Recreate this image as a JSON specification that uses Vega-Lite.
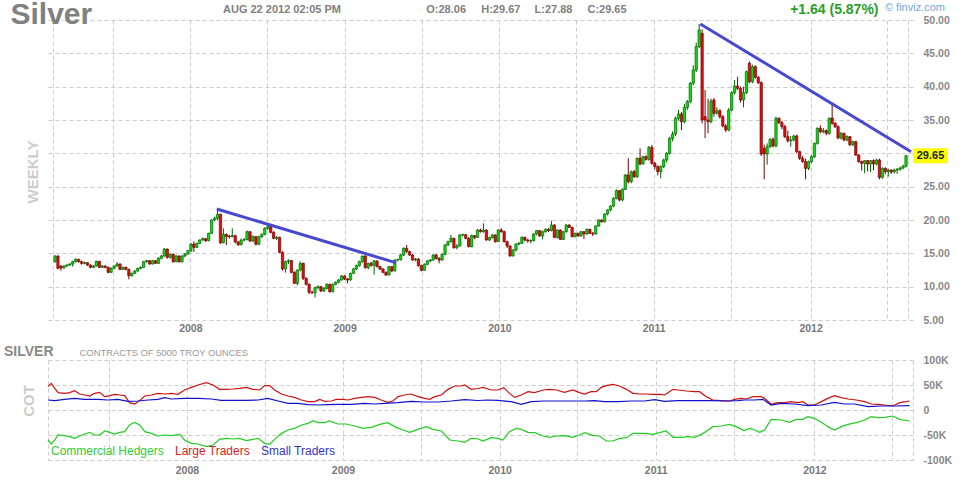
{
"$schema":"https://vega.github.io/schema/vega-lite/v6.json",
"autosize":{"type":"pad"},
"padding":{"left":3,"top":0,"right":9,"bottom":4},
"background":"white",
"bounds":"flush",
"spacing":40,
"resolve":{"legend":{"color":"independent"}},
"config":{"view":{"stroke":null},"font":"Liberation Sans","axis":{"labelOverlap":false}},
"datasets":{
"px":[
{"w":0,"o":13.75,"h":14.7,"l":13.6,"c":14.6},{"w":1,"o":14.6,"h":14.7,"l":12.6,"c":12.75},{"w":2,"o":13.1,"h":13.2,"l":12.4,"c":12.8},{"w":3,"o":12.8,"h":13.2,"l":12.7,"c":13.1},{"w":4,"o":13.1,"h":13.35,"l":12.95,"c":13.25},{"w":5,"o":13.25,"h":13.5,"l":13.1,"c":13.4},{"w":6,"o":13.4,"h":13.9,"l":13.0,"c":13.75},{"w":7,"o":13.75,"h":14.25,"l":13.6,"c":14.1},{"w":8,"o":14.1,"h":14.2,"l":13.6,"c":13.75},{"w":9,"o":13.75,"h":13.9,"l":13.3,"c":13.5},
{"w":10,"o":13.5,"h":13.75,"l":13.35,"c":13.6},{"w":11,"o":13.6,"h":13.7,"l":13.1,"c":13.25},{"w":12,"o":13.25,"h":13.35,"l":12.75,"c":12.9},{"w":13,"o":12.9,"h":13.25,"l":12.8,"c":13.1},{"w":14,"o":13.1,"h":13.9,"l":13.0,"c":13.8},{"w":15,"o":13.8,"h":13.85,"l":12.8,"c":12.9},{"w":16,"o":12.9,"h":13.25,"l":12.8,"c":13.1},{"w":17,"o":13.1,"h":13.2,"l":12.75,"c":12.9},{"w":18,"o":12.9,"h":13.0,"l":12.0,"c":12.15},{"w":19,"o":12.15,"h":12.9,"l":12.05,"c":12.75},
{"w":20,"o":12.75,"h":13.2,"l":12.6,"c":13.1},{"w":21,"o":13.1,"h":13.7,"l":13.0,"c":13.4},{"w":22,"o":13.4,"h":13.5,"l":12.5,"c":12.6},{"w":23,"o":12.6,"h":13.0,"l":12.5,"c":12.9},{"w":24,"o":12.9,"h":13.0,"l":12.45,"c":12.6},{"w":25,"o":12.6,"h":12.7,"l":11.1,"c":11.65},{"w":26,"o":11.65,"h":12.1,"l":11.5,"c":12.0},{"w":27,"o":12.0,"h":12.45,"l":11.9,"c":12.35},{"w":28,"o":12.35,"h":12.85,"l":12.25,"c":12.75},{"w":29,"o":12.75,"h":13.05,"l":12.6,"c":12.9},
{"w":30,"o":12.9,"h":13.85,"l":12.8,"c":13.75},{"w":31,"o":13.75,"h":14.0,"l":13.6,"c":13.9},{"w":32,"o":13.9,"h":14.0,"l":13.3,"c":13.4},{"w":33,"o":13.4,"h":14.0,"l":13.35,"c":13.9},{"w":34,"o":13.9,"h":14.0,"l":13.4,"c":13.5},{"w":35,"o":13.5,"h":14.4,"l":13.45,"c":14.25},{"w":36,"o":14.25,"h":14.75,"l":14.1,"c":14.6},{"w":37,"o":14.6,"h":15.8,"l":14.5,"c":15.65},{"w":38,"o":15.65,"h":15.7,"l":14.2,"c":14.4},{"w":39,"o":14.4,"h":14.95,"l":14.2,"c":14.85},
{"w":40,"o":14.85,"h":15.0,"l":13.6,"c":13.75},{"w":41,"o":13.75,"h":14.75,"l":13.65,"c":14.6},{"w":42,"o":14.6,"h":14.7,"l":13.6,"c":13.75},{"w":43,"o":13.75,"h":14.7,"l":13.6,"c":14.6},{"w":44,"o":14.6,"h":15.05,"l":14.45,"c":14.9},{"w":45,"o":14.9,"h":15.5,"l":14.8,"c":15.4},{"w":46,"o":15.4,"h":16.55,"l":15.2,"c":16.4},{"w":47,"o":16.4,"h":16.8,"l":15.2,"c":15.9},{"w":48,"o":15.9,"h":16.6,"l":15.8,"c":16.5},{"w":49,"o":16.5,"h":17.1,"l":16.4,"c":17.0},
{"w":50,"o":17.0,"h":17.4,"l":16.9,"c":17.2},{"w":51,"o":17.2,"h":17.3,"l":16.7,"c":16.9},{"w":52,"o":16.9,"h":18.1,"l":16.8,"c":18.0},{"w":53,"o":18.0,"h":20.1,"l":17.9,"c":20.0},{"w":54,"o":20.0,"h":20.5,"l":19.8,"c":20.25},{"w":55,"o":20.25,"h":21.6,"l":20.0,"c":20.85},{"w":56,"o":20.85,"h":20.95,"l":16.4,"c":16.6},{"w":57,"o":16.6,"h":18.75,"l":16.5,"c":17.85},{"w":58,"o":17.85,"h":17.95,"l":16.25,"c":17.5},{"w":59,"o":17.6,"h":17.75,"l":17.2,"c":17.5},
{"w":60,"o":17.5,"h":18.75,"l":17.4,"c":17.65},{"w":61,"o":17.65,"h":17.8,"l":16.5,"c":16.7},{"w":62,"o":16.7,"h":16.85,"l":16.1,"c":16.3},{"w":63,"o":16.3,"h":17.2,"l":16.2,"c":17.0},{"w":64,"o":17.0,"h":17.3,"l":16.8,"c":17.05},{"w":65,"o":17.05,"h":18.4,"l":16.95,"c":18.25},{"w":66,"o":18.25,"h":18.3,"l":16.7,"c":16.85},{"w":67,"o":16.85,"h":17.7,"l":16.7,"c":17.5},{"w":68,"o":17.5,"h":17.6,"l":16.2,"c":16.35},{"w":69,"o":16.35,"h":17.65,"l":16.3,"c":17.5},
{"w":70,"o":17.5,"h":18.0,"l":17.3,"c":17.85},{"w":71,"o":17.85,"h":18.9,"l":17.7,"c":18.75},{"w":72,"o":18.75,"h":19.3,"l":18.5,"c":19.0},{"w":73,"o":19.0,"h":19.2,"l":18.0,"c":18.15},{"w":74,"o":18.15,"h":18.3,"l":17.1,"c":17.25},{"w":75,"o":17.25,"h":17.6,"l":17.0,"c":17.4},{"w":76,"o":17.4,"h":17.5,"l":15.0,"c":15.15},{"w":77,"o":15.15,"h":15.3,"l":12.4,"c":12.65},{"w":78,"o":12.65,"h":13.9,"l":12.1,"c":13.75},{"w":79,"o":13.75,"h":14.1,"l":13.4,"c":13.9},
{"w":80,"o":13.9,"h":14.0,"l":12.0,"c":12.15},{"w":81,"o":12.15,"h":12.3,"l":10.4,"c":10.5},{"w":82,"o":10.5,"h":12.6,"l":10.2,"c":12.5},{"w":83,"o":12.5,"h":13.8,"l":12.3,"c":13.5},{"w":84,"o":13.5,"h":13.6,"l":11.0,"c":11.25},{"w":85,"o":11.25,"h":11.4,"l":10.2,"c":10.35},{"w":86,"o":10.35,"h":10.5,"l":8.9,"c":9.15},{"w":87,"o":9.15,"h":9.4,"l":8.9,"c":9.1},{"w":88,"o":9.1,"h":10.0,"l":8.4,"c":9.85},{"w":89,"o":9.85,"h":10.2,"l":9.6,"c":10.0},
{"w":90,"o":10.0,"h":10.1,"l":9.2,"c":9.35},{"w":91,"o":9.35,"h":9.9,"l":9.2,"c":9.75},{"w":92,"o":9.75,"h":10.5,"l":9.6,"c":10.35},{"w":93,"o":10.35,"h":10.45,"l":9.1,"c":9.25},{"w":94,"o":9.25,"h":10.5,"l":9.15,"c":10.35},{"w":95,"o":10.35,"h":10.8,"l":10.2,"c":10.65},{"w":96,"o":10.65,"h":11.15,"l":10.5,"c":11.0},{"w":97,"o":11.0,"h":11.75,"l":10.9,"c":11.6},{"w":98,"o":11.6,"h":11.7,"l":11.0,"c":11.15},{"w":99,"o":11.15,"h":11.3,"l":10.5,"c":11.0},
{"w":100,"o":11.0,"h":12.1,"l":10.9,"c":12.0},{"w":101,"o":12.0,"h":12.8,"l":11.9,"c":12.65},{"w":102,"o":12.65,"h":13.3,"l":12.5,"c":13.15},{"w":103,"o":13.15,"h":13.9,"l":13.0,"c":13.75},{"w":104,"o":13.75,"h":14.65,"l":13.6,"c":14.6},{"w":105,"o":14.6,"h":14.7,"l":12.7,"c":12.85},{"w":106,"o":12.85,"h":13.6,"l":12.6,"c":13.5},{"w":107,"o":13.5,"h":13.7,"l":13.0,"c":13.2},{"w":108,"o":13.2,"h":14.0,"l":11.8,"c":13.85},{"w":109,"o":13.85,"h":13.95,"l":12.9,"c":13.0},
{"w":110,"o":13.0,"h":13.1,"l":12.5,"c":12.65},{"w":111,"o":12.65,"h":12.75,"l":12.0,"c":12.15},{"w":112,"o":12.15,"h":12.3,"l":11.6,"c":11.75},{"w":113,"o":11.75,"h":13.1,"l":11.7,"c":13.0},{"w":114,"o":13.0,"h":13.1,"l":12.2,"c":12.35},{"w":115,"o":12.35,"h":14.1,"l":12.3,"c":14.0},{"w":116,"o":14.0,"h":14.2,"l":13.8,"c":14.05},{"w":117,"o":14.05,"h":14.9,"l":13.9,"c":14.75},{"w":118,"o":14.75,"h":15.9,"l":14.6,"c":15.75},{"w":119,"o":15.75,"h":16.25,"l":15.1,"c":15.25},
{"w":120,"o":15.25,"h":15.4,"l":14.6,"c":14.75},{"w":121,"o":14.75,"h":14.9,"l":13.9,"c":14.0},{"w":122,"o":14.0,"h":14.3,"l":13.8,"c":14.15},{"w":123,"o":14.15,"h":14.25,"l":13.0,"c":13.15},{"w":124,"o":13.15,"h":13.3,"l":12.3,"c":12.45},{"w":125,"o":12.45,"h":13.5,"l":12.4,"c":13.35},{"w":126,"o":13.35,"h":14.0,"l":13.2,"c":13.85},{"w":127,"o":13.85,"h":14.15,"l":13.7,"c":14.0},{"w":128,"o":14.0,"h":14.9,"l":13.9,"c":14.75},{"w":129,"o":14.75,"h":14.9,"l":14.1,"c":14.25},
{"w":130,"o":14.25,"h":14.4,"l":13.5,"c":14.0},{"w":131,"o":14.0,"h":14.95,"l":13.9,"c":14.85},{"w":132,"o":14.85,"h":16.4,"l":14.7,"c":16.25},{"w":133,"o":16.25,"h":16.9,"l":16.1,"c":16.75},{"w":134,"o":16.75,"h":17.75,"l":16.6,"c":17.25},{"w":135,"o":17.25,"h":17.35,"l":15.7,"c":15.85},{"w":136,"o":15.85,"h":16.4,"l":15.6,"c":16.1},{"w":137,"o":16.1,"h":17.9,"l":16.0,"c":17.75},{"w":138,"o":17.75,"h":17.95,"l":17.5,"c":17.8},{"w":139,"o":17.8,"h":17.9,"l":17.1,"c":17.25},
{"w":140,"o":17.25,"h":17.4,"l":15.9,"c":16.0},{"w":141,"o":16.0,"h":17.8,"l":15.9,"c":17.65},{"w":142,"o":17.65,"h":17.75,"l":17.1,"c":17.4},{"w":143,"o":17.4,"h":18.65,"l":17.3,"c":18.5},{"w":144,"o":18.5,"h":18.7,"l":18.1,"c":18.25},{"w":145,"o":18.25,"h":19.5,"l":18.1,"c":18.5},{"w":146,"o":18.5,"h":18.6,"l":16.9,"c":17.0},{"w":147,"o":17.0,"h":17.5,"l":16.85,"c":17.35},{"w":148,"o":17.35,"h":17.9,"l":17.2,"c":17.75},{"w":149,"o":17.75,"h":17.85,"l":16.6,"c":16.75},
{"w":150,"o":16.75,"h":18.65,"l":16.7,"c":18.5},{"w":151,"o":18.5,"h":18.8,"l":18.1,"c":18.25},{"w":152,"o":18.25,"h":18.4,"l":16.6,"c":16.75},{"w":153,"o":16.75,"h":16.9,"l":15.8,"c":16.1},{"w":154,"o":16.1,"h":16.2,"l":14.5,"c":14.6},{"w":155,"o":14.6,"h":15.6,"l":14.55,"c":15.5},{"w":156,"o":15.5,"h":16.5,"l":15.3,"c":16.4},{"w":157,"o":16.4,"h":16.7,"l":16.2,"c":16.5},{"w":158,"o":16.5,"h":17.55,"l":16.4,"c":17.4},{"w":159,"o":17.4,"h":17.5,"l":16.8,"c":17.0},
{"w":160,"o":17.0,"h":17.2,"l":16.6,"c":16.85},{"w":161,"o":16.85,"h":17.1,"l":16.5,"c":16.9},{"w":162,"o":16.9,"h":18.0,"l":16.8,"c":17.9},{"w":163,"o":17.9,"h":18.5,"l":17.7,"c":18.4},{"w":164,"o":18.4,"h":18.5,"l":17.5,"c":17.6},{"w":165,"o":17.6,"h":18.4,"l":17.1,"c":18.25},{"w":166,"o":18.25,"h":18.75,"l":18.1,"c":18.6},{"w":167,"o":18.6,"h":18.8,"l":18.2,"c":18.4},{"w":168,"o":18.4,"h":19.9,"l":18.3,"c":19.25},{"w":169,"o":19.25,"h":19.35,"l":17.3,"c":17.4},
{"w":170,"o":17.4,"h":18.6,"l":17.2,"c":18.5},{"w":171,"o":18.5,"h":18.6,"l":17.0,"c":17.1},{"w":172,"o":17.1,"h":18.35,"l":17.0,"c":18.25},{"w":173,"o":18.25,"h":19.4,"l":18.1,"c":19.25},{"w":174,"o":19.25,"h":19.35,"l":18.8,"c":18.9},{"w":175,"o":18.9,"h":19.0,"l":17.4,"c":17.5},{"w":176,"o":17.5,"h":18.1,"l":17.4,"c":18.0},{"w":177,"o":18.0,"h":18.1,"l":17.5,"c":17.6},{"w":178,"o":17.6,"h":18.35,"l":17.5,"c":18.25},{"w":179,"o":18.25,"h":18.3,"l":17.15,"c":17.9},
{"w":180,"o":17.9,"h":18.7,"l":17.8,"c":18.6},{"w":181,"o":18.6,"h":18.7,"l":17.9,"c":18.0},{"w":182,"o":18.0,"h":18.2,"l":17.6,"c":17.9},{"w":183,"o":17.9,"h":19.2,"l":17.8,"c":19.1},{"w":184,"o":19.1,"h":20.1,"l":19.0,"c":20.0},{"w":185,"o":20.0,"h":20.1,"l":19.6,"c":19.75},{"w":186,"o":19.75,"h":21.0,"l":19.6,"c":20.9},{"w":187,"o":20.9,"h":21.6,"l":20.7,"c":21.5},{"w":188,"o":21.5,"h":22.2,"l":21.3,"c":22.1},{"w":189,"o":22.1,"h":23.4,"l":21.9,"c":23.25},
{"w":190,"o":23.25,"h":24.6,"l":23.1,"c":24.4},{"w":191,"o":24.4,"h":24.5,"l":22.8,"c":23.0},{"w":192,"o":23.0,"h":24.75,"l":22.8,"c":24.6},{"w":193,"o":24.6,"h":26.9,"l":24.5,"c":26.75},{"w":194,"o":26.75,"h":29.25,"l":25.5,"c":25.75},{"w":195,"o":25.75,"h":27.4,"l":25.5,"c":27.25},{"w":196,"o":27.25,"h":27.5,"l":26.3,"c":26.5},{"w":197,"o":26.5,"h":29.4,"l":26.3,"c":29.25},{"w":198,"o":29.25,"h":30.75,"l":28.2,"c":28.4},{"w":199,"o":28.4,"h":29.6,"l":28.3,"c":29.5},
{"w":200,"o":29.5,"h":29.7,"l":28.9,"c":29.1},{"w":201,"o":29.1,"h":31.1,"l":28.9,"c":30.9},{"w":202,"o":30.9,"h":31.25,"l":28.3,"c":28.5},{"w":203,"o":28.5,"h":28.7,"l":27.6,"c":28.0},{"w":204,"o":28.0,"h":28.2,"l":26.7,"c":27.25},{"w":205,"o":27.25,"h":28.2,"l":26.25,"c":28.0},{"w":206,"o":28.0,"h":29.2,"l":27.8,"c":29.0},{"w":207,"o":29.0,"h":30.2,"l":28.6,"c":30.0},{"w":208,"o":30.0,"h":32.5,"l":29.8,"c":32.25},{"w":209,"o":32.25,"h":33.3,"l":31.8,"c":32.9},
{"w":210,"o":32.9,"h":35.5,"l":32.6,"c":35.25},{"w":211,"o":35.25,"h":36.5,"l":34.9,"c":35.9},{"w":212,"o":35.9,"h":36.2,"l":33.5,"c":34.75},{"w":213,"o":34.75,"h":37.4,"l":34.5,"c":36.9},{"w":214,"o":36.9,"h":38.0,"l":36.5,"c":37.75},{"w":215,"o":37.75,"h":40.7,"l":37.5,"c":40.5},{"w":216,"o":40.5,"h":43.2,"l":40.2,"c":42.5},{"w":217,"o":42.5,"h":46.6,"l":42.2,"c":46.0},{"w":218,"o":46.0,"h":49.4,"l":45.8,"c":48.5},{"w":219,"o":48.0,"h":48.6,"l":34.5,"c":35.0},
{"w":220,"o":35.5,"h":39.5,"l":32.3,"c":35.0},{"w":221,"o":35.0,"h":38.2,"l":33.0,"c":34.75},{"w":222,"o":34.75,"h":38.2,"l":34.5,"c":37.85},{"w":223,"o":38.0,"h":38.3,"l":35.5,"c":36.0},{"w":224,"o":36.0,"h":36.9,"l":35.8,"c":36.4},{"w":225,"o":36.4,"h":36.6,"l":35.2,"c":35.5},{"w":226,"o":35.5,"h":35.7,"l":33.9,"c":34.1},{"w":227,"o":34.1,"h":34.4,"l":33.2,"c":33.5},{"w":228,"o":33.5,"h":36.8,"l":33.3,"c":36.5},{"w":229,"o":36.5,"h":39.3,"l":36.3,"c":39.1},
{"w":230,"o":39.1,"h":41.0,"l":38.8,"c":40.1},{"w":231,"o":40.1,"h":41.5,"l":39.5,"c":39.75},{"w":232,"o":39.75,"h":40.0,"l":37.6,"c":38.0},{"w":233,"o":38.0,"h":40.0,"l":36.9,"c":39.1},{"w":234,"o":39.1,"h":42.4,"l":38.9,"c":42.25},{"w":235,"o":43.5,"h":43.8,"l":40.5,"c":40.75},{"w":236,"o":40.75,"h":43.3,"l":40.5,"c":43.0},{"w":237,"o":43.0,"h":43.2,"l":41.2,"c":41.4},{"w":238,"o":41.4,"h":41.6,"l":40.4,"c":40.6},{"w":239,"o":40.6,"h":40.8,"l":29.6,"c":29.9},
{"w":240,"o":30.75,"h":31.3,"l":26.1,"c":29.9},{"w":241,"o":29.9,"h":31.5,"l":28.3,"c":31.0},{"w":242,"o":31.0,"h":32.3,"l":30.8,"c":32.1},{"w":243,"o":32.1,"h":32.4,"l":30.9,"c":31.1},{"w":244,"o":31.1,"h":35.5,"l":30.9,"c":35.25},{"w":245,"o":35.25,"h":35.4,"l":34.4,"c":34.6},{"w":246,"o":34.6,"h":34.9,"l":33.6,"c":34.0},{"w":247,"o":34.0,"h":34.3,"l":32.3,"c":32.5},{"w":248,"o":32.5,"h":33.4,"l":31.6,"c":31.9},{"w":249,"o":31.9,"h":32.6,"l":31.0,"c":32.0},
{"w":250,"o":32.0,"h":32.8,"l":31.8,"c":32.6},{"w":251,"o":32.6,"h":32.8,"l":30.0,"c":30.25},{"w":252,"o":30.25,"h":30.4,"l":29.0,"c":29.25},{"w":253,"o":29.25,"h":29.6,"l":28.6,"c":28.75},{"w":254,"o":28.75,"h":29.2,"l":26.1,"c":27.75},{"w":255,"o":27.75,"h":28.9,"l":27.5,"c":28.75},{"w":256,"o":28.75,"h":29.7,"l":28.5,"c":29.5},{"w":257,"o":29.5,"h":31.6,"l":29.3,"c":31.5},{"w":258,"o":31.5,"h":33.9,"l":31.3,"c":33.75},{"w":259,"o":33.75,"h":34.2,"l":33.0,"c":33.25},
{"w":260,"o":33.25,"h":33.8,"l":33.0,"c":33.4},{"w":261,"o":33.4,"h":33.6,"l":32.7,"c":33.0},{"w":262,"o":33.0,"h":35.4,"l":32.8,"c":35.25},{"w":263,"o":35.3,"h":37.5,"l":34.3,"c":34.5},{"w":264,"o":34.5,"h":34.7,"l":33.8,"c":34.0},{"w":265,"o":34.0,"h":34.2,"l":32.1,"c":32.3},{"w":266,"o":32.3,"h":33.2,"l":32.1,"c":33.0},{"w":267,"o":33.0,"h":33.1,"l":31.8,"c":32.0},{"w":268,"o":32.0,"h":32.7,"l":31.8,"c":32.5},{"w":269,"o":32.5,"h":32.6,"l":31.1,"c":31.3},
{"w":270,"o":31.3,"h":31.9,"l":31.1,"c":31.75},{"w":271,"o":31.75,"h":31.9,"l":29.6,"c":29.75},{"w":272,"o":29.75,"h":29.9,"l":28.6,"c":28.75},{"w":273,"o":28.75,"h":28.9,"l":27.4,"c":28.5},{"w":274,"o":28.5,"h":29.0,"l":27.0,"c":28.9},{"w":275,"o":28.9,"h":29.0,"l":27.3,"c":28.4},{"w":276,"o":28.4,"h":29.0,"l":27.2,"c":28.9},{"w":277,"o":28.9,"h":29.1,"l":27.5,"c":28.4},{"w":278,"o":28.4,"h":29.2,"l":28.2,"c":29.0},{"w":279,"o":29.0,"h":29.2,"l":26.1,"c":26.4},
{"w":280,"o":26.4,"h":27.9,"l":26.2,"c":27.75},{"w":281,"o":27.75,"h":27.9,"l":26.9,"c":27.25},{"w":282,"o":27.25,"h":27.7,"l":26.5,"c":27.5},{"w":283,"o":27.5,"h":27.6,"l":26.9,"c":27.2},{"w":284,"o":27.2,"h":27.7,"l":27.0,"c":27.5},{"w":285,"o":27.5,"h":27.8,"l":26.9,"c":27.6},{"w":286,"o":27.6,"h":28.0,"l":27.4,"c":27.8},{"w":287,"o":27.8,"h":28.3,"l":27.6,"c":28.06},{"w":288,"o":28.06,"h":29.67,"l":27.88,"c":29.65}
],
"tl":[{"n":1,"w":54.75,"v":21.65},{"n":1,"w":115.3,"v":13.6},{"n":2,"w":218.4,"v":49.4},{"n":2,"w":289.7,"v":30.25}],
"cot":[
{"w":-0.7,"s":"Large Traders","v":46.7},{"w":0.4,"s":"Large Traders","v":53.3},{"w":1.6,"s":"Large Traders","v":43.3},{"w":2.7,"s":"Large Traders","v":34.7},{"w":4.9,"s":"Large Traders","v":33.3},{"w":6.6,"s":"Large Traders","v":34.7},{"w":8.2,"s":"Large Traders","v":38.7},{"w":9.9,"s":"Large Traders","v":32},{"w":11.6,"s":"Large Traders","v":30},{"w":13.3,"s":"Large Traders","v":28},{"w":14.9,"s":"Large Traders","v":33.3},{"w":16.6,"s":"Large Traders","v":35.3},{"w":18.3,"s":"Large Traders","v":26.7},{"w":20.0,"s":"Large Traders","v":28.7},{"w":21.6,"s":"Large Traders","v":31.3},{"w":23.3,"s":"Large Traders","v":30},{"w":25.0,"s":"Large Traders","v":28.7},{"w":26.6,"s":"Large Traders","v":14.7},{"w":28.3,"s":"Large Traders","v":12},{"w":30.0,"s":"Large Traders","v":18.7},{"w":31.7,"s":"Large Traders","v":28},{"w":33.9,"s":"Large Traders","v":30},{"w":36.1,"s":"Large Traders","v":33.3},{"w":38.4,"s":"Large Traders","v":32},{"w":40.6,"s":"Large Traders","v":33.3},{"w":42.8,"s":"Large Traders","v":31.3},{"w":45.0,"s":"Large Traders","v":40},{"w":47.3,"s":"Large Traders","v":45.3},{"w":49.5,"s":"Large Traders","v":50},{"w":52.3,"s":"Large Traders","v":54.7},{"w":54.5,"s":"Large Traders","v":50},{"w":56.7,"s":"Large Traders","v":41.3},{"w":59.0,"s":"Large Traders","v":41.3},{"w":61.2,"s":"Large Traders","v":42},{"w":63.4,"s":"Large Traders","v":43.3},{"w":65.7,"s":"Large Traders","v":45.3},{"w":67.9,"s":"Large Traders","v":41.3},{"w":70.1,"s":"Large Traders","v":40},{"w":71.8,"s":"Large Traders","v":48.7},{"w":73.5,"s":"Large Traders","v":48.7},{"w":75.1,"s":"Large Traders","v":40},{"w":77.4,"s":"Large Traders","v":32},{"w":79.6,"s":"Large Traders","v":28},{"w":81.8,"s":"Large Traders","v":25.3},{"w":84.1,"s":"Large Traders","v":20},{"w":86.3,"s":"Large Traders","v":16.7},{"w":88.5,"s":"Large Traders","v":16.7},{"w":90.2,"s":"Large Traders","v":21.3},{"w":91.9,"s":"Large Traders","v":17.3},{"w":94.1,"s":"Large Traders","v":18},{"w":95.8,"s":"Large Traders","v":21.3},{"w":98.0,"s":"Large Traders","v":21.3},{"w":99.7,"s":"Large Traders","v":20},{"w":101.9,"s":"Large Traders","v":23.3},{"w":104.1,"s":"Large Traders","v":25.3},{"w":106.4,"s":"Large Traders","v":26.7},{"w":108.6,"s":"Large Traders","v":25.3},{"w":110.8,"s":"Large Traders","v":20},{"w":113.0,"s":"Large Traders","v":15.3},{"w":114.7,"s":"Large Traders","v":18},{"w":116.4,"s":"Large Traders","v":26.7},{"w":118.6,"s":"Large Traders","v":30},{"w":120.8,"s":"Large Traders","v":32},{"w":123.1,"s":"Large Traders","v":26.7},{"w":125.3,"s":"Large Traders","v":23.3},{"w":127.0,"s":"Large Traders","v":21.3},{"w":128.7,"s":"Large Traders","v":26.7},{"w":130.9,"s":"Large Traders","v":30},{"w":133.1,"s":"Large Traders","v":41.3},{"w":135.3,"s":"Large Traders","v":48},{"w":137.6,"s":"Large Traders","v":48},{"w":138.7,"s":"Large Traders","v":50},{"w":140.9,"s":"Large Traders","v":41.3},{"w":143.1,"s":"Large Traders","v":43},{"w":144.8,"s":"Large Traders","v":45.3},{"w":147.6,"s":"Large Traders","v":40},{"w":149.8,"s":"Large Traders","v":40},{"w":151.8,"s":"Large Traders","v":44.7},{"w":153.7,"s":"Large Traders","v":33.3},{"w":155.4,"s":"Large Traders","v":25.3},{"w":157.6,"s":"Large Traders","v":30},{"w":159.9,"s":"Large Traders","v":36.7},{"w":162.1,"s":"Large Traders","v":34.7},{"w":164.9,"s":"Large Traders","v":40},{"w":167.1,"s":"Large Traders","v":41.3},{"w":169.3,"s":"Large Traders","v":40},{"w":172.1,"s":"Large Traders","v":35.3},{"w":174.9,"s":"Large Traders","v":40},{"w":177.1,"s":"Large Traders","v":34.7},{"w":178.8,"s":"Large Traders","v":32},{"w":181.0,"s":"Large Traders","v":36.7},{"w":182.7,"s":"Large Traders","v":36.7},{"w":184.4,"s":"Large Traders","v":45.3},{"w":186.1,"s":"Large Traders","v":48.7},{"w":188.3,"s":"Large Traders","v":51.3},{"w":190.5,"s":"Large Traders","v":48},{"w":192.8,"s":"Large Traders","v":41.3},{"w":195.0,"s":"Large Traders","v":33.3},{"w":197.2,"s":"Large Traders","v":32},{"w":199.4,"s":"Large Traders","v":32},{"w":201.7,"s":"Large Traders","v":31.3},{"w":203.9,"s":"Large Traders","v":31.3},{"w":205.6,"s":"Large Traders","v":30},{"w":207.2,"s":"Large Traders","v":36.7},{"w":208.4,"s":"Large Traders","v":41.3},{"w":210.0,"s":"Large Traders","v":40},{"w":212.8,"s":"Large Traders","v":38},{"w":215.6,"s":"Large Traders","v":36.7},{"w":217.3,"s":"Large Traders","v":36.7},{"w":219.5,"s":"Large Traders","v":26.7},{"w":221.7,"s":"Large Traders","v":20},{"w":224.5,"s":"Large Traders","v":18.7},{"w":227.3,"s":"Large Traders","v":18},{"w":229.0,"s":"Large Traders","v":21.3},{"w":231.2,"s":"Large Traders","v":23.3},{"w":232.9,"s":"Large Traders","v":22},{"w":235.1,"s":"Large Traders","v":26.7},{"w":237.9,"s":"Large Traders","v":26.7},{"w":239.0,"s":"Large Traders","v":23.3},{"w":241.2,"s":"Large Traders","v":12},{"w":243.4,"s":"Large Traders","v":14.7},{"w":245.7,"s":"Large Traders","v":14.7},{"w":247.9,"s":"Large Traders","v":16.7},{"w":250.2,"s":"Large Traders","v":14.7},{"w":251.8,"s":"Large Traders","v":16.7},{"w":253.5,"s":"Large Traders","v":10},{"w":255.7,"s":"Large Traders","v":10},{"w":258.0,"s":"Large Traders","v":16.7},{"w":260.2,"s":"Large Traders","v":23.3},{"w":262.4,"s":"Large Traders","v":28.7},{"w":264.7,"s":"Large Traders","v":24.7},{"w":266.9,"s":"Large Traders","v":22},{"w":269.7,"s":"Large Traders","v":20},{"w":272.5,"s":"Large Traders","v":16.7},{"w":274.7,"s":"Large Traders","v":12},{"w":276.9,"s":"Large Traders","v":11.3},{"w":279.2,"s":"Large Traders","v":10},{"w":281.9,"s":"Large Traders","v":8},{"w":284.2,"s":"Large Traders","v":14.7},{"w":286.4,"s":"Large Traders","v":16.7},{"w":287.5,"s":"Large Traders","v":18},
{"w":-0.7,"s":"Small Traders","v":20},{"w":1.6,"s":"Small Traders","v":18.7},{"w":4.9,"s":"Small Traders","v":21.3},{"w":8.2,"s":"Small Traders","v":23.3},{"w":11.6,"s":"Small Traders","v":21.3},{"w":16.1,"s":"Small Traders","v":21.3},{"w":19.4,"s":"Small Traders","v":20},{"w":22.7,"s":"Small Traders","v":21.3},{"w":26.1,"s":"Small Traders","v":17.3},{"w":29.4,"s":"Small Traders","v":18},{"w":32.8,"s":"Small Traders","v":20},{"w":36.1,"s":"Small Traders","v":21.3},{"w":38.4,"s":"Small Traders","v":24.7},{"w":40.6,"s":"Small Traders","v":22},{"w":45.0,"s":"Small Traders","v":23.3},{"w":49.5,"s":"Small Traders","v":23.3},{"w":54.0,"s":"Small Traders","v":22},{"w":57.3,"s":"Small Traders","v":19.3},{"w":60.6,"s":"Small Traders","v":19.3},{"w":65.1,"s":"Small Traders","v":19.3},{"w":69.6,"s":"Small Traders","v":20},{"w":72.9,"s":"Small Traders","v":23.3},{"w":76.3,"s":"Small Traders","v":18},{"w":79.6,"s":"Small Traders","v":13.3},{"w":82.9,"s":"Small Traders","v":13.3},{"w":86.3,"s":"Small Traders","v":10.7},{"w":89.6,"s":"Small Traders","v":10},{"w":93.0,"s":"Small Traders","v":10.7},{"w":96.3,"s":"Small Traders","v":11.3},{"w":100.8,"s":"Small Traders","v":11.3},{"w":105.2,"s":"Small Traders","v":13.3},{"w":108.6,"s":"Small Traders","v":12},{"w":111.9,"s":"Small Traders","v":13.3},{"w":116.4,"s":"Small Traders","v":14.7},{"w":120.8,"s":"Small Traders","v":17.3},{"w":125.3,"s":"Small Traders","v":16},{"w":129.8,"s":"Small Traders","v":16},{"w":134.2,"s":"Small Traders","v":18},{"w":138.7,"s":"Small Traders","v":20.7},{"w":143.1,"s":"Small Traders","v":19},{"w":146.5,"s":"Small Traders","v":20},{"w":149.8,"s":"Small Traders","v":19.3},{"w":154.3,"s":"Small Traders","v":16.7},{"w":157.6,"s":"Small Traders","v":11.3},{"w":161.0,"s":"Small Traders","v":16.7},{"w":165.4,"s":"Small Traders","v":18},{"w":172.1,"s":"Small Traders","v":18},{"w":178.8,"s":"Small Traders","v":18},{"w":182.2,"s":"Small Traders","v":18.7},{"w":185.5,"s":"Small Traders","v":16.7},{"w":190.0,"s":"Small Traders","v":16.7},{"w":194.4,"s":"Small Traders","v":18},{"w":198.9,"s":"Small Traders","v":18},{"w":202.2,"s":"Small Traders","v":20.7},{"w":205.6,"s":"Small Traders","v":17.3},{"w":210.0,"s":"Small Traders","v":18.7},{"w":215.6,"s":"Small Traders","v":18.7},{"w":221.2,"s":"Small Traders","v":18.7},{"w":226.8,"s":"Small Traders","v":18},{"w":230.1,"s":"Small Traders","v":18.7},{"w":232.3,"s":"Small Traders","v":20},{"w":235.7,"s":"Small Traders","v":20},{"w":238.5,"s":"Small Traders","v":21.3},{"w":241.2,"s":"Small Traders","v":10},{"w":244.6,"s":"Small Traders","v":13.3},{"w":249.1,"s":"Small Traders","v":12},{"w":253.5,"s":"Small Traders","v":8.7},{"w":258.0,"s":"Small Traders","v":10},{"w":262.4,"s":"Small Traders","v":15.3},{"w":265.8,"s":"Small Traders","v":12},{"w":269.1,"s":"Small Traders","v":12},{"w":273.6,"s":"Small Traders","v":6.7},{"w":278.1,"s":"Small Traders","v":8},{"w":282.5,"s":"Small Traders","v":8},{"w":287.5,"s":"Small Traders","v":8.7},
{"w":-0.7,"s":"Commercial Hedgers","v":-60},{"w":0.4,"s":"Commercial Hedgers","v":-68},{"w":1.6,"s":"Commercial Hedgers","v":-60},{"w":2.7,"s":"Commercial Hedgers","v":-50},{"w":4.9,"s":"Commercial Hedgers","v":-51.3},{"w":6.6,"s":"Commercial Hedgers","v":-53.3},{"w":8.2,"s":"Commercial Hedgers","v":-56.7},{"w":9.9,"s":"Commercial Hedgers","v":-52},{"w":11.6,"s":"Commercial Hedgers","v":-48},{"w":13.3,"s":"Commercial Hedgers","v":-44.7},{"w":14.9,"s":"Commercial Hedgers","v":-50},{"w":16.6,"s":"Commercial Hedgers","v":-50},{"w":18.3,"s":"Commercial Hedgers","v":-42},{"w":20.0,"s":"Commercial Hedgers","v":-44.7},{"w":21.6,"s":"Commercial Hedgers","v":-48},{"w":23.3,"s":"Commercial Hedgers","v":-44.7},{"w":25.0,"s":"Commercial Hedgers","v":-43.3},{"w":26.6,"s":"Commercial Hedgers","v":-30},{"w":28.3,"s":"Commercial Hedgers","v":-24.7},{"w":30.0,"s":"Commercial Hedgers","v":-30},{"w":31.7,"s":"Commercial Hedgers","v":-43.3},{"w":33.9,"s":"Commercial Hedgers","v":-46.7},{"w":36.1,"s":"Commercial Hedgers","v":-52},{"w":38.4,"s":"Commercial Hedgers","v":-50},{"w":40.6,"s":"Commercial Hedgers","v":-51.3},{"w":43.4,"s":"Commercial Hedgers","v":-48.7},{"w":45.0,"s":"Commercial Hedgers","v":-60},{"w":47.3,"s":"Commercial Hedgers","v":-66.7},{"w":49.5,"s":"Commercial Hedgers","v":-68},{"w":52.3,"s":"Commercial Hedgers","v":-73.3},{"w":54.5,"s":"Commercial Hedgers","v":-70},{"w":56.7,"s":"Commercial Hedgers","v":-58.7},{"w":59.0,"s":"Commercial Hedgers","v":-56.7},{"w":61.2,"s":"Commercial Hedgers","v":-58},{"w":63.4,"s":"Commercial Hedgers","v":-56.7},{"w":65.7,"s":"Commercial Hedgers","v":-61.3},{"w":67.9,"s":"Commercial Hedgers","v":-58.7},{"w":69.6,"s":"Commercial Hedgers","v":-56.7},{"w":71.8,"s":"Commercial Hedgers","v":-66.7},{"w":73.5,"s":"Commercial Hedgers","v":-68.7},{"w":75.1,"s":"Commercial Hedgers","v":-58.7},{"w":77.4,"s":"Commercial Hedgers","v":-46.7},{"w":79.6,"s":"Commercial Hedgers","v":-40},{"w":81.8,"s":"Commercial Hedgers","v":-36.7},{"w":84.1,"s":"Commercial Hedgers","v":-30},{"w":86.3,"s":"Commercial Hedgers","v":-26.7},{"w":88.0,"s":"Commercial Hedgers","v":-21.3},{"w":89.6,"s":"Commercial Hedgers","v":-25.3},{"w":91.9,"s":"Commercial Hedgers","v":-25.3},{"w":93.5,"s":"Commercial Hedgers","v":-22},{"w":96.3,"s":"Commercial Hedgers","v":-28},{"w":99.1,"s":"Commercial Hedgers","v":-28},{"w":101.9,"s":"Commercial Hedgers","v":-32},{"w":104.7,"s":"Commercial Hedgers","v":-36.7},{"w":107.5,"s":"Commercial Hedgers","v":-34.7},{"w":110.3,"s":"Commercial Hedgers","v":-28.7},{"w":113.0,"s":"Commercial Hedgers","v":-25.3},{"w":115.8,"s":"Commercial Hedgers","v":-34.7},{"w":118.1,"s":"Commercial Hedgers","v":-40},{"w":120.3,"s":"Commercial Hedgers","v":-44.7},{"w":123.1,"s":"Commercial Hedgers","v":-38.7},{"w":125.9,"s":"Commercial Hedgers","v":-33.3},{"w":128.1,"s":"Commercial Hedgers","v":-38.7},{"w":130.9,"s":"Commercial Hedgers","v":-42},{"w":133.7,"s":"Commercial Hedgers","v":-60},{"w":136.5,"s":"Commercial Hedgers","v":-62},{"w":138.7,"s":"Commercial Hedgers","v":-64.7},{"w":140.9,"s":"Commercial Hedgers","v":-56.7},{"w":143.1,"s":"Commercial Hedgers","v":-57.5},{"w":144.8,"s":"Commercial Hedgers","v":-62},{"w":147.6,"s":"Commercial Hedgers","v":-55.3},{"w":149.8,"s":"Commercial Hedgers","v":-56.7},{"w":151.5,"s":"Commercial Hedgers","v":-60},{"w":153.7,"s":"Commercial Hedgers","v":-43.3},{"w":155.9,"s":"Commercial Hedgers","v":-36.7},{"w":157.6,"s":"Commercial Hedgers","v":-38.7},{"w":159.9,"s":"Commercial Hedgers","v":-44.7},{"w":162.1,"s":"Commercial Hedgers","v":-45.3},{"w":164.9,"s":"Commercial Hedgers","v":-52},{"w":167.1,"s":"Commercial Hedgers","v":-54.7},{"w":169.3,"s":"Commercial Hedgers","v":-52},{"w":172.1,"s":"Commercial Hedgers","v":-51.3},{"w":174.9,"s":"Commercial Hedgers","v":-54.7},{"w":177.1,"s":"Commercial Hedgers","v":-50},{"w":178.8,"s":"Commercial Hedgers","v":-45.3},{"w":181.6,"s":"Commercial Hedgers","v":-50.7},{"w":183.8,"s":"Commercial Hedgers","v":-52},{"w":186.1,"s":"Commercial Hedgers","v":-62},{"w":188.3,"s":"Commercial Hedgers","v":-62},{"w":190.5,"s":"Commercial Hedgers","v":-56.7},{"w":192.8,"s":"Commercial Hedgers","v":-55.3},{"w":195.0,"s":"Commercial Hedgers","v":-46.7},{"w":197.2,"s":"Commercial Hedgers","v":-46.7},{"w":199.4,"s":"Commercial Hedgers","v":-46.7},{"w":201.7,"s":"Commercial Hedgers","v":-48.7},{"w":203.9,"s":"Commercial Hedgers","v":-45.3},{"w":206.1,"s":"Commercial Hedgers","v":-42},{"w":208.4,"s":"Commercial Hedgers","v":-54.7},{"w":211.2,"s":"Commercial Hedgers","v":-54.7},{"w":213.4,"s":"Commercial Hedgers","v":-53.3},{"w":215.6,"s":"Commercial Hedgers","v":-54.7},{"w":217.9,"s":"Commercial Hedgers","v":-48.7},{"w":220.2,"s":"Commercial Hedgers","v":-40},{"w":221.7,"s":"Commercial Hedgers","v":-33.3},{"w":224.5,"s":"Commercial Hedgers","v":-32},{"w":227.3,"s":"Commercial Hedgers","v":-28.7},{"w":229.5,"s":"Commercial Hedgers","v":-33.3},{"w":232.3,"s":"Commercial Hedgers","v":-41.3},{"w":234.0,"s":"Commercial Hedgers","v":-36.7},{"w":235.7,"s":"Commercial Hedgers","v":-40},{"w":237.4,"s":"Commercial Hedgers","v":-44.7},{"w":239.0,"s":"Commercial Hedgers","v":-40},{"w":241.2,"s":"Commercial Hedgers","v":-18.7},{"w":244.6,"s":"Commercial Hedgers","v":-20},{"w":247.4,"s":"Commercial Hedgers","v":-24.7},{"w":249.6,"s":"Commercial Hedgers","v":-18.7},{"w":251.8,"s":"Commercial Hedgers","v":-18.7},{"w":253.5,"s":"Commercial Hedgers","v":-13.3},{"w":255.7,"s":"Commercial Hedgers","v":-16.7},{"w":258.0,"s":"Commercial Hedgers","v":-24.7},{"w":260.2,"s":"Commercial Hedgers","v":-33.3},{"w":262.4,"s":"Commercial Hedgers","v":-40},{"w":264.7,"s":"Commercial Hedgers","v":-33.3},{"w":266.9,"s":"Commercial Hedgers","v":-28.7},{"w":269.7,"s":"Commercial Hedgers","v":-25.3},{"w":272.5,"s":"Commercial Hedgers","v":-20},{"w":274.7,"s":"Commercial Hedgers","v":-13.3},{"w":276.9,"s":"Commercial Hedgers","v":-15.3},{"w":279.2,"s":"Commercial Hedgers","v":-14.7},{"w":281.9,"s":"Commercial Hedgers","v":-12},{"w":284.2,"s":"Commercial Hedgers","v":-18.7},{"w":287.5,"s":"Commercial Hedgers","v":-22}
]
},
"vconcat":[
{
"width":865,"height":300,
"layer":[
{"data":{"name":"px"},"mark":{"type":"rule","strokeWidth":1},
"encoding":{
"x":{"field":"w","type":"quantitative","scale":{"domain":[-0.67,288.67],"nice":false,"zero":false},
"axis":{"title":null,"values":[-0.67,19.7,45.8,71.9,98,124.1,150.4,176.4,202.6,228.7,255.7,281.7,288.67],"tickCount":30,"labelExpr":"datum.value == 45.8 ? '2008' : datum.value == 98 ? '2009' : datum.value == 150.4 ? '2010' : datum.value == 202.6 ? '2011' : datum.value == 255.7 ? '2012' : ''","grid":true,"gridDash":[4,3],"gridColor":"#cccccc","ticks":false,"domain":false,"labelFontSize":10.5,"labelFontWeight":"bold","labelColor":"#777777","labelPadding":3,"labelFlush":false,"labelOverlap":false}},
"y":{"field":"l","type":"quantitative","scale":{"domain":[5,50],"nice":false,"zero":false},
"axis":{"title":null,"orient":"right","values":[5,10,15,20,25,30,35,40,45,50],"tickCount":20,"labelExpr":"datum.value == 30 ? '' : format(datum.value, '.2f')","grid":true,"gridDash":[4,3],"gridColor":"#cccccc","ticks":false,"domain":false,"labelFontSize":10.5,"labelFontWeight":"bold","labelColor":"#888888","labelPadding":10,"labelOverlap":false}},
"y2":{"field":"h"},
"color":{"condition":{"test":"datum.c >= datum.o","value":"#006400"},"value":"#7a0000"}}},
{"data":{"name":"px"},"mark":{"type":"bar","width":2.3,"strokeWidth":0.7},
"encoding":{"x":{"field":"w","type":"quantitative"},"y":{"field":"o","type":"quantitative"},"y2":{"field":"c"},
"fill":{"condition":{"test":"datum.c >= datum.o","value":"#11dd11"},"value":"#dd1111"},
"stroke":{"condition":{"test":"datum.c >= datum.o","value":"#006400"},"value":"#7a0000"}}},
{"data":{"name":"tl"},"mark":{"type":"line","strokeWidth":3,"color":"#4848d0","clip":false},
"encoding":{"x":{"field":"w","type":"quantitative"},"y":{"field":"v","type":"quantitative"},"detail":{"field":"n","type":"nominal"}}},
{"data":{"name":"px"},"transform":[{"filter":"datum.w == 288"}],
"mark":{"type":"point","shape":"M-1,-0.43L1,-0.43L1,0.43L-1,0.43Z","size":1225,"filled":true,"color":"#ffff00","opacity":1,"strokeWidth":0,"xOffset":24.5,"clip":false},
"encoding":{"x":{"field":"w","type":"quantitative"},"y":{"field":"c","type":"quantitative"}}},
{"data":{"name":"px"},"transform":[{"filter":"datum.w == 288"}],
"mark":{"type":"text","fontSize":11,"fontWeight":"bold","color":"#222222","xOffset":24.5,"align":"center","baseline":"middle","clip":false},
"encoding":{"x":{"field":"w","type":"quantitative"},"y":{"field":"c","type":"quantitative"},"text":{"field":"c","type":"quantitative","format":".2f"}}},
{"data":{"values":[{}]},"mark":{"type":"text","align":"center","baseline":"middle","angle":270,"fontSize":15,"fontWeight":"bold","color":"#cccccc","clip":false},
"encoding":{"x":{"datum":-7.36},"y":{"datum":27.2},"text":{"value":"WEEKLY"}}},
{"data":{"values":[{}]},"mark":{"type":"text","align":"left","baseline":"alphabetic","fontSize":30,"fontWeight":"bold","color":"#808080","clip":false},
"encoding":{"x":{"datum":-15.05},"y":{"datum":49.4},"text":{"value":"Silver"}}},
{"data":{"values":[{}]},"mark":{"type":"text","align":"left","baseline":"alphabetic","fontSize":11,"fontWeight":"bold","color":"#808080","clip":false},
"encoding":{"x":{"datum":56.86},"y":{"datum":51.0},"text":{"value":"AUG 22 2012 02:05 PM"}}},
{"data":{"values":[{}]},"mark":{"type":"text","align":"left","baseline":"alphabetic","fontSize":11,"fontWeight":"bold","color":"#808080","clip":false},
"encoding":{"x":{"datum":125.65},"y":{"datum":51.0},"text":{"value":"O:28.06"}}},
{"data":{"values":[{}]},"mark":{"type":"text","align":"left","baseline":"alphabetic","fontSize":11,"fontWeight":"bold","color":"#808080","clip":false},
"encoding":{"x":{"datum":144.25},"y":{"datum":51.0},"text":{"value":"H:29.67"}}},
{"data":{"values":[{}]},"mark":{"type":"text","align":"left","baseline":"alphabetic","fontSize":11,"fontWeight":"bold","color":"#808080","clip":false},
"encoding":{"x":{"datum":162.3},"y":{"datum":51.0},"text":{"value":"L:27.88"}}},
{"data":{"values":[{}]},"mark":{"type":"text","align":"left","baseline":"alphabetic","fontSize":11,"fontWeight":"bold","color":"#808080","clip":false},
"encoding":{"x":{"datum":180.2},"y":{"datum":51.0},"text":{"value":"C:29.65"}}},
{"data":{"values":[{}]},"mark":{"type":"text","align":"left","baseline":"alphabetic","fontSize":14,"fontWeight":"bold","color":"#2a9e2a","clip":false},
"encoding":{"x":{"datum":248.8},"y":{"datum":50.9},"text":{"value":"+1.64 (5.87%)"}}},
{"data":{"values":[{}]},"mark":{"type":"text","align":"right","baseline":"alphabetic","fontSize":11,"color":"#6fa8dc","clip":false},
"encoding":{"x":{"datum":301.2},"y":{"datum":51.4},"text":{"value":"© finviz.com"}}}
]
},
{
"width":865,"height":100,
"layer":[
{"data":{"name":"cot"},"mark":{"type":"line","strokeWidth":1.2},
"encoding":{
"x":{"field":"w","type":"quantitative","scale":{"domain":[-0.67,288.67],"nice":false,"zero":false},
"axis":{"title":null,"values":[-0.67,19.7,45.8,71.9,98,124.1,150.4,176.4,202.6,228.7,255.7,281.7,288.67],"tickCount":30,"labelExpr":"datum.value == 45.8 ? '2008' : datum.value == 98 ? '2009' : datum.value == 150.4 ? '2010' : datum.value == 202.6 ? '2011' : datum.value == 255.7 ? '2012' : ''","grid":true,"gridDash":[4,3],"gridColor":"#cccccc","ticks":false,"domain":false,"labelFontSize":10.5,"labelFontWeight":"bold","labelColor":"#777777","labelPadding":5,"labelFlush":false,"labelOverlap":false}},
"y":{"field":"v","type":"quantitative","scale":{"domain":[-100,100],"nice":false,"zero":false},
"axis":{"title":null,"orient":"right","values":[-100,-50,0,50,100],"tickCount":10,"labelExpr":"datum.value == 0 ? '0' : datum.value + 'K'","grid":true,"gridDash":[4,3],"gridColor":"#cccccc","ticks":false,"domain":false,"labelFontSize":10.5,"labelFontWeight":"bold","labelColor":"#888888","labelPadding":10,"labelOverlap":false}},
"color":{"field":"s","type":"nominal","scale":{"domain":["Commercial Hedgers","Large Traders","Small Traders"],"range":["#22cc22","#cc1111","#1111cc"]},
"legend":{"title":null,"orient":"bottom-left","direction":"horizontal","symbolSize":1,"symbolOpacity":0,"symbolStrokeWidth":0,"labelFontSize":12,"labelOffset":-12,"columnPadding":11,"padding":0,"offset":3,"labelFont":"Liberation Sans","labelColor":{"expr":"datum.label == 'Commercial Hedgers' ? '#33cc33' : datum.label == 'Large Traders' ? '#dd2222' : '#3333cc'"}}}}},
{"data":{"values":[{}]},"mark":{"type":"text","align":"center","baseline":"middle","angle":270,"fontSize":15,"fontWeight":"bold","color":"#cccccc","clip":false},
"encoding":{"x":{"datum":-7.03},"y":{"datum":18},"text":{"value":"COT"}}},
{"data":{"values":[{}]},"mark":{"type":"text","align":"left","baseline":"alphabetic","fontSize":14,"fontWeight":"bold","color":"#8a8a8a","clip":false},
"encoding":{"x":{"datum":-15.4},"y":{"datum":108},"text":{"value":"SILVER"}}},
{"data":{"values":[{}]},"mark":{"type":"text","align":"left","baseline":"alphabetic","fontSize":9.4,"color":"#999999","clip":false},
"encoding":{"x":{"datum":9.9},"y":{"datum":108},"text":{"value":"CONTRACTS OF 5000 TROY OUNCES"}}}
]
}
]
}
